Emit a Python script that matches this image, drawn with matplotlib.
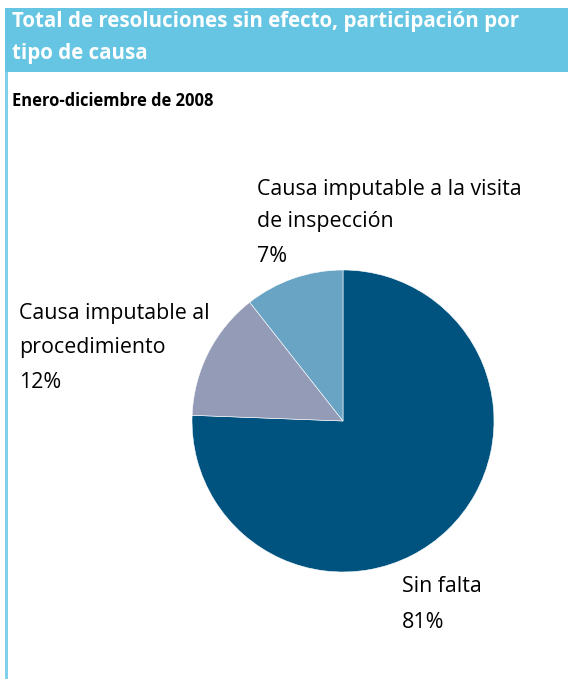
import matplotlib
matplotlib.use("Agg")
import matplotlib.pyplot as plt
from matplotlib.patches import Rectangle

W, H = 568, 679
DPI = 100

title_lines = ["Total de resoluciones sin efecto, participación por", "tipo de causa"]
subtitle = "Enero-diciembre de 2008"
categories = ["Sin falta", "Causa imputable al\nprocedimiento", "Causa imputable a la visita\nde inspección"]
pct_labels = ["81%", "12%", "7%"]
values = [75.6, 13.8, 10.6]
colors = ["#00527f", "#949bb7", "#6aa4c4"]

FONT = ["Open Sans", "DejaVu Sans"]

fig = plt.figure(figsize=(W / DPI, H / DPI), dpi=DPI)
fig.patch.set_facecolor("white")

def px(x, y):
    return x / W, 1 - y / H

# header band and left border
fig.patches.append(Rectangle(px(5, 72), (W - 5) / W, 64 / H, transform=fig.transFigure,
                             facecolor="#65c5e2", edgecolor="none", zorder=0))
fig.patches.append(Rectangle(px(5, H), 2.5 / W, (H - 72) / H, transform=fig.transFigure,
                             facecolor="#7fd0ea", edgecolor="none", zorder=0))

for i, line in enumerate(title_lines):
    x, y = px(12, 22 + 31 * i)
    fig.text(x, y, line, color="white", fontsize=14.8, fontweight="bold",
             family=FONT, va="center", ha="left")

x, y = px(12, 101)
fig.text(x, y, subtitle, color="black", fontsize=11.9, fontweight="bold",
         family=FONT, va="center", ha="left")

cx, cy, r = 343, 421, 151
ax = fig.add_axes([(cx - r) / W, (H - cy - r) / H, 2 * r / W, 2 * r / H])
ax.pie(values, colors=colors, startangle=90, counterclock=False,
       wedgeprops=dict(edgecolor="white", linewidth=0.4))
ax.set_xlim(-1, 1)
ax.set_ylim(-1, 1)
ax.axis("off")

label_pos = [(402, 587), (19, 314), (257, 189)]
for (lx, ly), cat, pct in zip(label_pos, categories, pct_labels):
    lines = cat.split("\n") + [pct]
    for j, t in enumerate(lines):
        yy = ly + 33 * j + (2 if j == len(lines) - 1 else 0)
        x, y = px(lx, yy)
        fig.text(x, y, t, color="black", fontsize=15.4, family=FONT,
                 va="center", ha="left")

fig.savefig("out.png", dpi=DPI)
